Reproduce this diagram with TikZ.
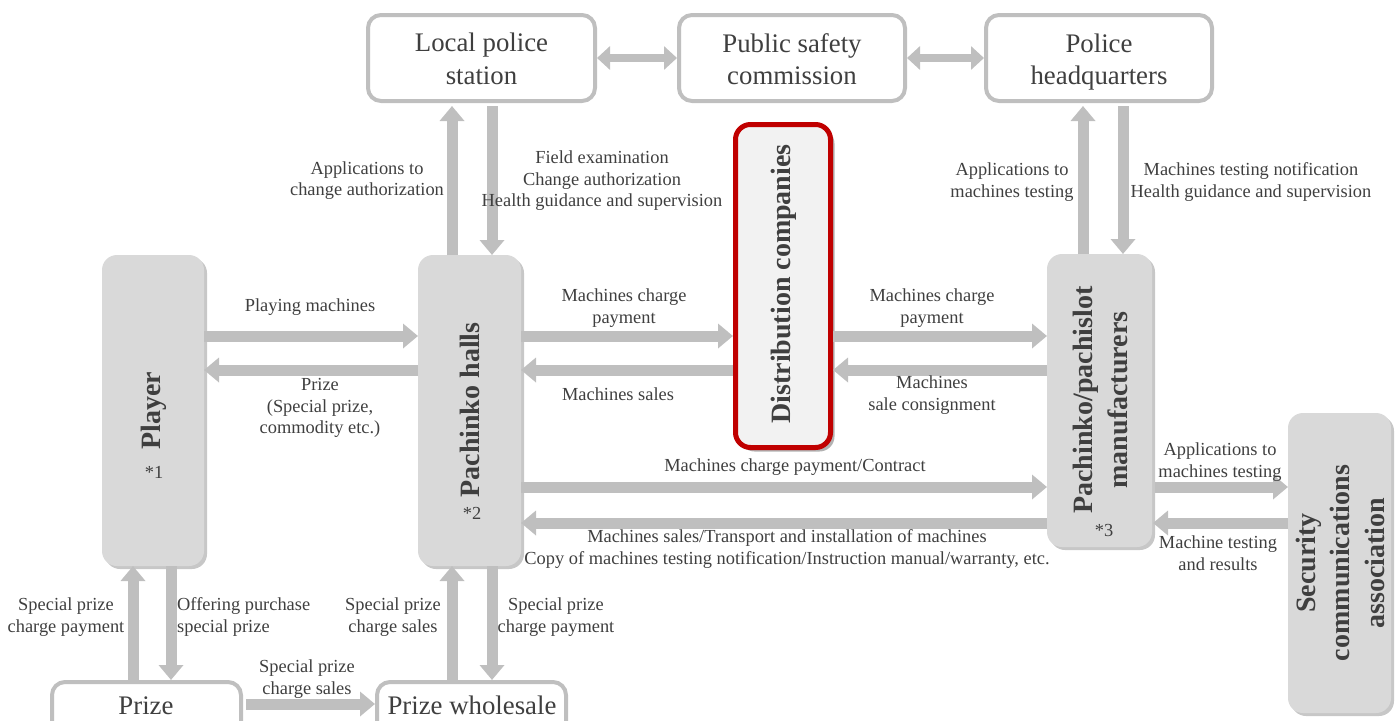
\documentclass[tikz,border=0pt]{standalone}
\usepackage{fontspec}
\setmainfont{Liberation Serif}
\usetikzlibrary{arrows.meta,shadows}
\definecolor{arrowgray}{HTML}{BFBFBF}
\definecolor{boxgray}{HTML}{D9D9D9}
\definecolor{txt}{HTML}{3F3F3F}
\definecolor{distred}{HTML}{C00000}
\definecolor{distfill}{HTML}{F2F2F2}
\begin{document}
\begin{tikzpicture}[x=1pt,y=-1pt,
  outlinebox/.style={draw=arrowgray, line width=4pt, rounded corners=13pt, fill=white, inner sep=0pt, outer sep=2pt},
  graybox/.style={fill=boxgray, rounded corners=15pt, inner sep=0pt, outer sep=0pt,
     drop shadow={shadow xshift=3pt, shadow yshift=-3pt, opacity=0.22, fill=black}},
  distbox/.style={draw=distred, line width=5pt, fill=distfill, rounded corners=15pt, inner sep=0pt, outer sep=2.5pt,
     drop shadow={shadow xshift=4pt, shadow yshift=-4pt, opacity=0.3, fill=black}},
  bigtxt/.style={text=txt, font=\fontsize{26.8}{32.5}\selectfont, align=center, inner sep=0pt},
  boldtxt/.style={text=txt, font=\fontsize{28}{34.5}\selectfont\bfseries, align=center, inner sep=0pt, rotate=90},
  lbl/.style={text=txt, font=\fontsize{18.4}{21.5}\selectfont, align=center, inner sep=0pt},
  flow/.style={draw=arrowgray, line width=11pt, -{Triangle[width=24pt,length=15pt]}},
  dflow/.style={draw=arrowgray, line width=8pt, {Triangle[width=23pt,length=13pt]}-{Triangle[width=23pt,length=13pt]}}
]
\useasboundingbox (0,0) rectangle (1397,720);
\clip (0,0) rectangle (1397,720);

% boxes
\node[outlinebox, minimum width=227pt, minimum height=86pt] (lps) at (481.5,58) {};
\node[outlinebox, minimum width=226pt, minimum height=86pt] (psc) at (792,58) {};
\node[outlinebox, minimum width=226pt, minimum height=86pt] (phq) at (1099,58) {};
\node[graybox, minimum width=102pt, minimum height=311pt] (player) at (153,410.5) {};
\node[graybox, minimum width=103pt, minimum height=311pt] (pach) at (469.5,410.5) {};
\node[distbox, minimum width=95pt, minimum height=323pt] (dist) at (783,286) {};
\node[graybox, minimum width=105pt, minimum height=293pt] (manu) at (1099.5,400.5) {};
\node[graybox, minimum width=103pt, minimum height=300pt] (sca) at (1339.5,563) {};
\node[outlinebox, minimum width=189pt, minimum height=90pt] (prize) at (146.5,727) {};
\node[outlinebox, minimum width=189pt, minimum height=90pt] (pw) at (471.5,727) {};

% box texts
\node[bigtxt] (lpst) at ([yshift=-1pt]lps.center) {Local police\\station};
\node[bigtxt] (psct) at ([yshift=-1pt]psc.center) {Public safety\\commission};
\node[bigtxt] (phqt) at ([yshift=-4pt]phq.center) {Police\\headquarters};
\node[boldtxt] (playert) at (154,411) {Player};
\node[lbl] (playern) at (154,472) {*1};
\node[boldtxt] (pacht) at (470,410) {Pachinko halls};
\node[lbl] (pachn) at (472,513) {*2};
\node[boldtxt] (distt) at (784,284) {Distribution companies};
\node[boldtxt] (manut) at (1100.5,400) {Pachinko/pachislot\\manufacturers};
\node[lbl] (manun) at (1104,530) {*3};
\node[boldtxt] (scat) at (1340,563) {Security\\communications\\association};
\node[bigtxt, anchor=base] (prizet) at (146,714) {Prize};
\node[bigtxt, anchor=base] (pwt) at (472,714) {Prize wholesale};

% helper coordinates
\coordinate (ym) at (0,58);
\coordinate (ya) at (0,336);
\coordinate (yb) at (0,370);
\coordinate (yc) at (0,487);
\coordinate (yd) at (0,523);
\coordinate (ye) at (0,704);
\coordinate (xa) at (133,0);
\coordinate (xb) at (171,0);
\coordinate (xc) at (452,0);
\coordinate (xd) at (492,0);
\coordinate (xe) at (1083,0);
\coordinate (xf) at (1123,0);

% connectors
\draw[dflow] (lps.east |- ym) -- (psc.west |- ym);
\draw[dflow] (psc.east |- ym) -- (phq.west |- ym);
\draw[flow, shorten >=3pt] (pach.north -| xc) -- (lps.south -| xc);
\draw[flow, shorten <=3pt] (lps.south -| xd) -- (pach.north -| xd);
\draw[flow, shorten >=3pt] (manu.north -| xe) -- (phq.south -| xe);
\draw[flow, shorten <=3pt] (phq.south -| xf) -- (manu.north -| xf);
\draw[flow] (player.east |- ya) -- (pach.west |- ya);
\draw[flow] (pach.west |- yb) -- (player.east |- yb);
\draw[flow] (pach.east |- ya) -- (dist.west |- ya);
\draw[flow] (dist.west |- yb) -- (pach.east |- yb);
\draw[flow] (dist.east |- ya) -- (manu.west |- ya);
\draw[flow] (manu.west |- yb) -- (dist.east |- yb);
\draw[flow] (pach.east |- yc) -- (manu.west |- yc);
\draw[flow] (manu.west |- yd) -- (pach.east |- yd);
\draw[flow, shorten <=3pt] (manu.east |- yc) -- (sca.west |- yc);
\draw[flow, shorten >=1pt] (sca.west |- yd) -- (manu.east |- yd);
\draw[flow] (prize.north -| xa) -- (player.south -| xa);
\draw[flow] (player.south -| xb) -- (prize.north -| xb);
\draw[flow] (pw.north -| xc) -- (pach.south -| xc);
\draw[flow] (pach.south -| xd) -- (pw.north -| xd);
\draw[flow, shorten <=3pt] (prize.east |- ye) -- (pw.west |- ye);

% labels
\node[lbl] (l1) at (367,180.5) {Applications to\\change authorization};
\node[lbl] (l2) at (602,181) {Field examination\\Change authorization\\Health guidance and supervision};
\node[lbl] (l3) at (1012,182) {Applications to\\machines testing};
\node[lbl] (l4) at (1251,182) {Machines testing notification\\Health guidance and supervision};
\node[lbl] (l5) at (310,307) {Playing machines};
\node[lbl] (l6) at (320,408) {Prize\\(Special prize,\\commodity etc.)};
\node[lbl] (l7) at (624,308) {Machines charge\\payment};
\node[lbl] (l8) at (618,394) {Machines sales};
\node[lbl] (l9) at (932,308) {Machines charge\\payment};
\node[lbl] (l10) at (932,395) {Machines\\sale consignment};
\node[lbl] (l11) at (795,467) {Machines charge payment/Contract};
\node[lbl] (l12) at (787,549) {Machines sales/Transport and installation of machines\\Copy of machines testing notification/Instruction manual/warranty, etc.};
\node[lbl] (l13) at (1220,462) {Applications to\\machines testing};
\node[lbl] (l14) at (1218,553) {Machine testing\\and results};
\node[lbl] (l15) at (66,617) {Special prize\\charge payment};
\node[lbl, align=left, anchor=west] (l16) at (177,617) {Offering purchase\\special prize};
\node[lbl] (l17) at (393,617) {Special prize\\charge sales};
\node[lbl] (l18) at (556,617) {Special prize\\charge payment};
\node[lbl] (l19) at (307,679) {Special prize\\charge sales};
\end{tikzpicture}
\end{document}
